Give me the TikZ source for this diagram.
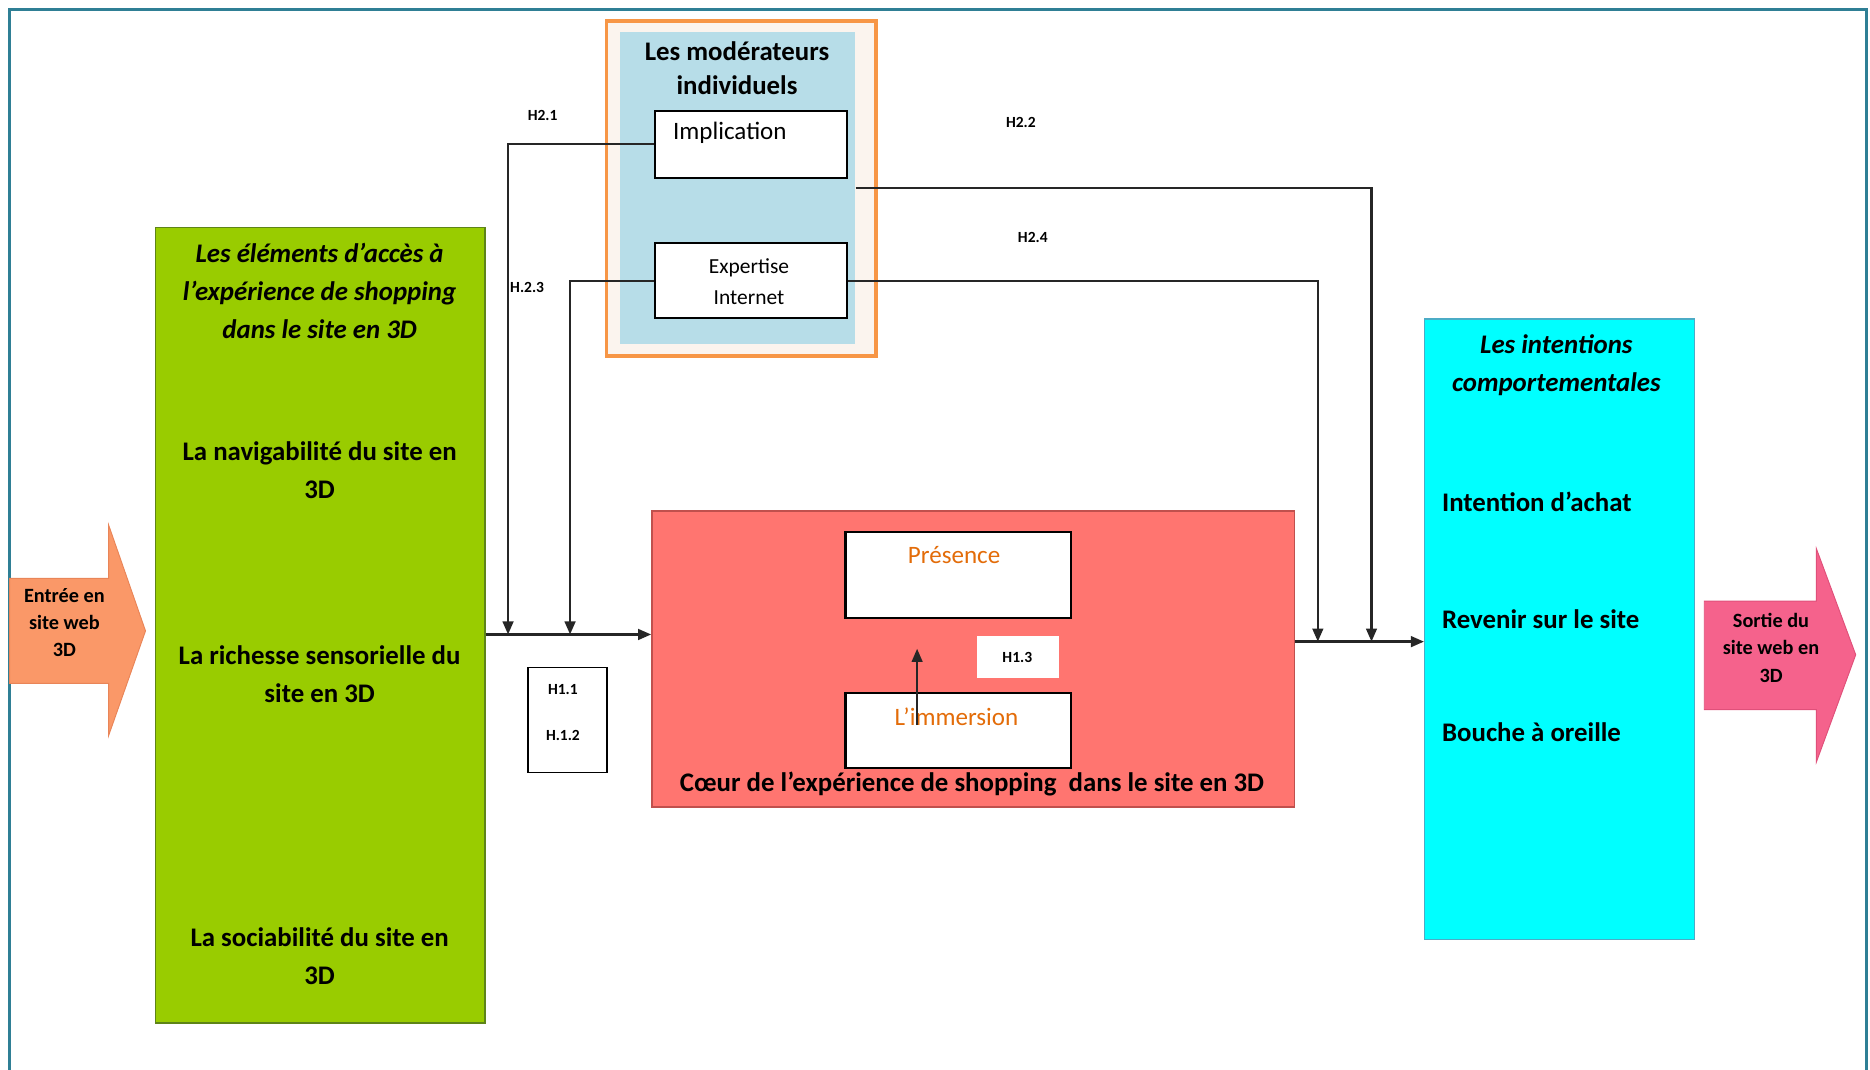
\documentclass[tikz,border=0pt]{standalone}
\usepackage{fontspec}
\setmainfont{Carlito}
\usetikzlibrary{arrows.meta}
\definecolor{frameC}{HTML}{2F7F95}
\definecolor{greenF}{HTML}{99CC00}
\definecolor{greenD}{HTML}{5E8418}
\definecolor{redF}{HTML}{FF7570}
\definecolor{redD}{HTML}{C0504D}
\definecolor{cyanF}{HTML}{00FFFF}
\definecolor{cyanD}{HTML}{4BACC6}
\definecolor{modBlue}{HTML}{B7DDE8}
\definecolor{modOrange}{HTML}{F79646}
\definecolor{modCream}{HTML}{FBF4EE}
\definecolor{inArrow}{HTML}{FA9868}
\definecolor{inArrowD}{HTML}{E98558}
\definecolor{outArrow}{HTML}{F5628C}
\definecolor{outArrowD}{HTML}{E0507A}
\definecolor{presOrange}{HTML}{E36C09}
\begin{document}
\begin{tikzpicture}[x=1pt,y=-1pt,
  box/.style={draw, inner sep=0pt, anchor=north west},
  big/.style={font=\fontsize{22.5}{32}\selectfont\bfseries, align=center, inner sep=0pt},
  bigit/.style={font=\fontsize{22.5}{32}\selectfont\bfseries\itshape, align=center, inner sep=0pt},
  small/.style={font=\fontsize{17}{23}\selectfont\bfseries, align=center, inner sep=0pt},
  hlab/.style={font=\fontsize{13}{16}\selectfont\bfseries, inner sep=0pt},
  conn/.style={draw=black!85, line width=2pt},
  arr/.style={conn, -{Triangle[length=11pt,width=9pt]}},
]
\useasboundingbox (0,0) rectangle (1568,897);
% outer frame
\draw[frameC, line width=2pt] (8,897) -- (8,8) -- (1565,8) -- (1565,897);

% boxes
\node[box, draw=greenD, fill=greenF, line width=1.2pt, minimum width=276pt, minimum height=667pt] (green) at (130,190) {};
\node[box, draw=modOrange, fill=modCream, line width=3pt, minimum width=226pt, minimum height=281pt] (modframe) at (507,16) {};
\node[box, draw=none, fill=modBlue, minimum width=197pt, minimum height=261pt] (modblue) at (520,27) {};
\node[box, fill=white, line width=1.8pt, minimum width=161pt, minimum height=56pt] (impl) at (548,92) {};
\node[box, fill=white, line width=1.8pt, minimum width=161pt, minimum height=63pt] (expert) at (548,203) {};
\node[box, draw=redD, fill=redF, line width=1.2pt, minimum width=539pt, minimum height=248pt] (core) at (546,428) {};
\node[box, fill=white, line width=1.8pt, minimum width=189pt, minimum height=72pt] (pres) at (708,445) {};
\node[box, fill=white, line width=1.8pt, minimum width=189pt, minimum height=63pt] (imm) at (708,580) {};
\node[box, draw=none, fill=white, minimum width=69pt, minimum height=35pt] (hbox13) at (819,533) {};
\node[box, fill=white, line width=1.5pt, minimum width=66pt, minimum height=88pt] (hbox11) at (442,559) {};
\node[box, draw=cyanD, fill=cyanF, line width=1.2pt, minimum width=226pt, minimum height=520pt] (cyan) at (1194,267) {};

% entry / exit arrows
\draw[draw=inArrowD, fill=inArrow, line width=0.8pt] (8,485) -- (91,485) -- (91,440) -- (122,529) -- (91,617) -- (91,573) -- (8,573) -- cycle;
\draw[draw=outArrowD, fill=outArrow, line width=0.8pt] (1429,504) -- (1523,504) -- (1523,460) -- (1556,549) -- (1523,639) -- (1523,595) -- (1429,595) -- cycle;

% texts
\node[bigit] (gtitle) at (268,244) {Les éléments d’accès à\\l’expérience de shopping\\dans le site en 3D};
\node[big] (g1) at (268,394) {La navigabilité du site en\\3D};
\node[big] (g2) at (268,565) {La richesse sensorielle du\\site en 3D};
\node[big] (g3) at (268,802) {La sociabilité du site en\\3D};
\node[big, font=\fontsize{22.5}{29}\selectfont\bfseries] (modt) at (618,57) {Les modérateurs\\individuels};
\node[font=\fontsize{21}{25}\selectfont, inner sep=0pt] (implt) at (612,111) {Implication};
\node[font=\fontsize{18}{26}\selectfont, align=center, inner sep=0pt] (expt) at (628,236) {Expertise\\Internet};
\node[font=\fontsize{21}{25}\selectfont, text=presOrange, inner sep=0pt] (prest) at (800,465) {Présence};
\node[font=\fontsize{21}{25}\selectfont, text=presOrange, inner sep=0pt] (immt) at (802,601) {L’immersion};
\node[big] (coret) at (815,657) {Cœur de l’expérience de shopping\ \ dans le site en 3D};
\node[hlab] (h13) at (853,551) {H1.3};
\node[hlab] (h11) at (472,578) {H1.1};
\node[hlab] (h12) at (472,617) {H.1.2};
\node[hlab] (h21) at (455,97) {H2.1};
\node[hlab] (h23) at (442,241) {H.2.3};
\node[hlab] (h22) at (856,103) {H2.2};
\node[hlab] (h24) at (866,199) {H2.4};
\node[bigit] (ctitle) at (1305,306) {Les intentions\\comportementales};
\node[big, anchor=west] (c1) at (1209,421) {Intention d’achat};
\node[big, anchor=west] (c2) at (1209,519) {Revenir sur le site};
\node[big, anchor=west] (c3) at (1209,614) {Bouche à oreille};
\node[small] (ent) at (54,522) {Entrée en\\site web\\3D};
\node[small] (sor) at (1485,543) {Sortie du\\site web en\\3D};

% connectors
\coordinate (j1) at (426,532);
\coordinate (j2) at (478,532);
\coordinate (j3) at (1105,538);
\coordinate (j4) at (1150,538);
\coordinate (ia) at (769,608);
\coordinate (ib) at (769,544);
\draw[arr] (impl.west) -| (j1);
\draw[arr] (expert.west) -| (j2);
\draw[arr] (green.east |- j1) -- (core.west |- j1);
\draw[arr] (expert.east) -| (j3);
\draw[arr] (modblue.east) -| (j4);
\draw[arr] (core.east |- j3) -- (cyan.west |- j3);
\draw[arr, line width=1.6pt] (ia) -- (ib);
\end{tikzpicture}
\end{document}
